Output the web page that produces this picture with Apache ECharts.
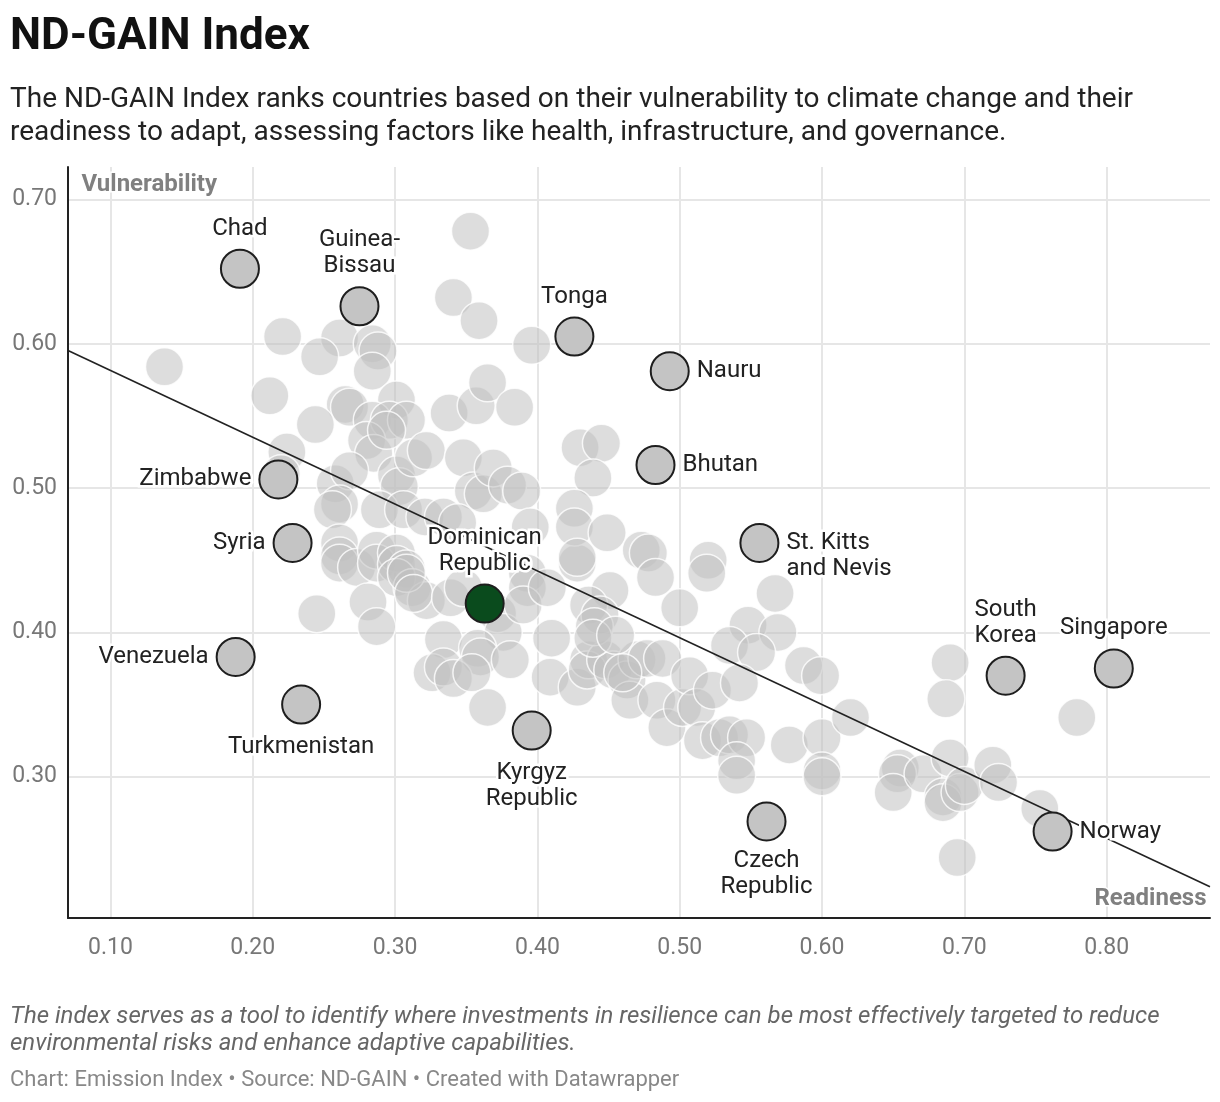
<!DOCTYPE html>
<html>
<head>
<meta charset="utf-8">
<script src="https://cdn.jsdelivr.net/npm/echarts@6/dist/echarts.min.js"></script>
<style>
  html, body { margin: 0; padding: 0; background: #fff; }
  #chart { width: 1220px; height: 1102px; }
</style>
</head>
<body>
<div id="chart"></div>
<script>
// ---- Data ----
const greyX = [0.138,0.353,0.341,0.359,0.396,0.221,0.261,0.247,0.284,0.288,0.284,0.212,0.265,0.268,0.301,0.244,0.284,0.296,0.308,0.338,0.357,0.365,0.384,0.224,0.220,0.280,0.285,0.294,0.301,0.303,0.313,0.322,0.348,0.355,0.362,0.369,0.379,0.389,0.258,0.268,0.261,0.256,0.289,0.306,0.321,0.334,0.344,0.395,0.261,0.261,0.261,0.273,0.287,0.287,0.301,0.301,0.308,0.301,0.312,0.322,0.281,0.245,0.287,0.308,0.313,0.339,0.348,0.372,0.376,0.393,0.393,0.390,0.407,0.334,0.358,0.360,0.381,0.410,0.326,0.334,0.341,0.354,0.365,0.409,0.428,0.436,0.435,0.448,0.453,0.463,0.465,0.470,0.428,0.451,0.436,0.444,0.440,0.439,0.455,0.430,0.445,0.439,0.426,0.426,0.449,0.428,0.473,0.478,0.483,0.520,0.519,0.500,0.567,0.548,0.569,0.535,0.554,0.587,0.599,0.477,0.488,0.484,0.491,0.502,0.507,0.512,0.516,0.523,0.528,0.535,0.547,0.540,0.540,0.542,0.577,0.600,0.600,0.600,0.620,0.690,0.687,0.779,0.655,0.653,0.650,0.671,0.690,0.685,0.685,0.697,0.700,0.720,0.724,0.753,0.695,0.460];
const greyY = [0.584,0.678,0.632,0.616,0.599,0.605,0.604,0.591,0.600,0.595,0.581,0.564,0.558,0.556,0.561,0.544,0.547,0.547,0.547,0.552,0.557,0.573,0.556,0.525,0.510,0.533,0.524,0.540,0.509,0.501,0.521,0.526,0.521,0.498,0.496,0.514,0.502,0.498,0.503,0.512,0.489,0.485,0.485,0.485,0.480,0.480,0.476,0.473,0.462,0.453,0.448,0.445,0.457,0.448,0.455,0.447,0.444,0.438,0.431,0.422,0.421,0.413,0.404,0.441,0.427,0.424,0.431,0.413,0.400,0.441,0.431,0.419,0.431,0.395,0.389,0.383,0.381,0.396,0.372,0.376,0.368,0.372,0.348,0.369,0.362,0.381,0.374,0.381,0.374,0.367,0.353,0.381,0.448,0.429,0.419,0.412,0.404,0.396,0.398,0.528,0.531,0.507,0.486,0.473,0.469,0.452,0.457,0.455,0.438,0.450,0.441,0.417,0.427,0.405,0.400,0.391,0.386,0.377,0.370,0.382,0.382,0.353,0.334,0.348,0.370,0.348,0.325,0.360,0.327,0.329,0.327,0.311,0.301,0.365,0.322,0.327,0.304,0.300,0.341,0.379,0.354,0.341,0.306,0.302,0.289,0.302,0.313,0.286,0.282,0.289,0.294,0.308,0.296,0.278,0.244,0.372];

const hlNames  = ['Chad','Guinea-Bissau','Tonga','Nauru','Bhutan','St. Kitts and Nevis','Zimbabwe','Syria','Dominican Republic','Venezuela','Turkmenistan','Kyrgyz Republic','Czech Republic','South Korea','Singapore','Norway'];
const hlLabels = ['Chad','Guinea-\nBissau','Tonga','Nauru','Bhutan','St. Kitts\nand Nevis','Zimbabwe','Syria','Dominican\nRepublic','Venezuela','Turkmenistan','Kyrgyz\nRepublic','Czech\nRepublic','South\nKorea','Singapore','Norway'];
const hlX = [0.191,0.275,0.426,0.493,0.483,0.556,0.218,0.228,0.363,0.188,0.234,0.396,0.561,0.729,0.805,0.762];
const hlY = [0.652,0.626,0.605,0.581,0.516,0.462,0.506,0.462,0.420,0.383,0.350,0.332,0.269,0.370,0.375,0.262];

const trendX = [0.0702, 0.8726];
const trendY = [0.5954, 0.2238];

const xTicks = [0.1,0.2,0.3,0.4,0.5,0.6,0.7,0.8];
const yTicks = [0.3,0.4,0.5,0.6,0.7];

const titleText = 'ND-GAIN Index';
const subtitleText = 'The ND-GAIN Index ranks countries based on their vulnerability to climate change and their\nreadiness to adapt, assessing factors like health, infrastructure, and governance.';
const noteText = 'The index serves as a tool to identify where investments in resilience can be most effectively targeted to reduce\nenvironmental risks and enhance adaptive capabilities.';
const sourceText = 'Chart: Emission Index \u2022 Source: ND-GAIN \u2022 Created with Datawrapper';
const yAxisTitle = 'Vulnerability';
const xAxisTitle = 'Readiness';

// ---- Styles ----
const FONT = 'Roboto';
const labelPlacement = {
  'Chad': { position: 'top' },
  'Guinea-Bissau': { position: 'top' },
  'Tonga': { position: 'top' },
  'Nauru': { position: 'right' },
  'Bhutan': { position: 'right' },
  'St. Kitts and Nevis': { position: 'right', offset: [0, 13] },
  'Zimbabwe': { position: 'left' },
  'Syria': { position: 'left' },
  'Dominican Republic': { position: 'top' },
  'Venezuela': { position: 'left' },
  'Turkmenistan': { position: 'bottom', distance: 9 },
  'Kyrgyz Republic': { position: 'bottom', distance: 9 },
  'Czech Republic': { position: 'bottom' },
  'South Korea': { position: 'top' },
  'Singapore': { position: 'top' },
  'Norway': { position: 'right' }
};

const greyData = greyX.map((x, i) => [x, greyY[i]]);
const hlData = hlNames.map((n, i) => {
  const pl = labelPlacement[n] || { position: 'top' };
  const item = {
    name: n,
    value: [hlX[i], hlY[i]],
    label: Object.assign({
      show: true,
      formatter: hlLabels[i],
      distance: 7
    }, pl)
  };
  if (n === 'Dominican Republic') {
    item.itemStyle = { color: '#0a4b1d' };
  }
  return item;
});
const trendData = trendX.map((x, i) => [x, trendY[i]]);

const chart = echarts.init(document.getElementById('chart'), null, { renderer: 'canvas' });

const option = {
  animation: false,
  backgroundColor: '#ffffff',
  textStyle: { fontFamily: FONT },
  title: [
    { text: titleText, left: 10, top: 16, padding: 0,
      textStyle: { fontFamily: FONT, fontSize: 44, fontWeight: 'bold', color: '#111' } },
    { text: subtitleText, left: 10, top: 83, padding: 0,
      textStyle: { fontFamily: FONT, fontSize: 28, lineHeight: 33, fontWeight: 'normal', color: '#222' } },
    { text: noteText, left: 10, top: 1003, padding: 0,
      textStyle: { fontFamily: FONT, fontSize: 24, lineHeight: 27, fontStyle: 'italic', fontWeight: 'normal', color: '#666' } },
    { text: sourceText, left: 10, top: 1069, padding: 0,
      textStyle: { fontFamily: FONT, fontSize: 22, fontWeight: 'normal', color: '#888' } }
  ],
  grid: { left: 68, right: 10, top: 167, bottom: 184, containLabel: false },
  xAxis: {
    type: 'value',
    min: 0.0702, max: 0.8726,
    axisLine: { show: true, onZero: false, lineStyle: { color: '#222', width: 2 } },
    axisTick: { show: false, customValues: xTicks },
    axisLabel: { customValues: xTicks, formatter: v => v.toFixed(2), color: '#777', fontSize: 23, fontFamily: FONT, margin: 19 },
    splitLine: { show: true, lineStyle: { color: '#e6e6e6', width: 2 } }
  },
  yAxis: {
    type: 'value',
    min: 0.2021, max: 0.7225,
    axisLine: { show: true, onZero: false, lineStyle: { color: '#222', width: 2 } },
    axisTick: { show: false, customValues: yTicks },
    axisLabel: { customValues: yTicks, formatter: v => v.toFixed(2), color: '#777', fontSize: 23, fontFamily: FONT, margin: 11 },
    splitLine: { show: true, lineStyle: { color: '#e6e6e6', width: 2 } }
  },
  graphic: [
    { type: 'text', left: 80, top: 171, z: 10,
      style: { text: yAxisTitle, fontFamily: FONT, fontSize: 24, fontWeight: 'bold', fill: '#808080', stroke: '#fff', lineWidth: 3 } },
    { type: 'text', right: 12, top: 885, z: 10,
      style: { text: xAxisTitle, fontFamily: FONT, fontSize: 24, fontWeight: 'bold', fill: '#808080', stroke: '#fff', lineWidth: 3 } }
  ],
  series: [
    {
      type: 'scatter',
      data: greyData,
      symbolSize: 38,
      z: 2,
      silent: true,
      itemStyle: { color: 'rgba(191,191,191,0.67)', borderColor: '#ffffff', borderWidth: 1.5 }
    },
    {
      type: 'line',
      data: trendData,
      symbol: 'none',
      z: 3,
      silent: true,
      lineStyle: { color: '#222', width: 1.6 }
    },
    {
      type: 'scatter',
      data: hlData,
      symbolSize: 38,
      z: 4,
      silent: true,
      itemStyle: { color: '#c4c4c4', borderColor: '#1e1e1e', borderWidth: 2, opacity: 1 },
      label: {
        show: true,
        color: '#222',
        fontFamily: FONT,
        fontSize: 24,
        lineHeight: 26,
        textBorderColor: '#ffffff',
        textBorderWidth: 5
      }
    }
  ]
};
chart.setOption(option);
</script>
</body>
</html>
